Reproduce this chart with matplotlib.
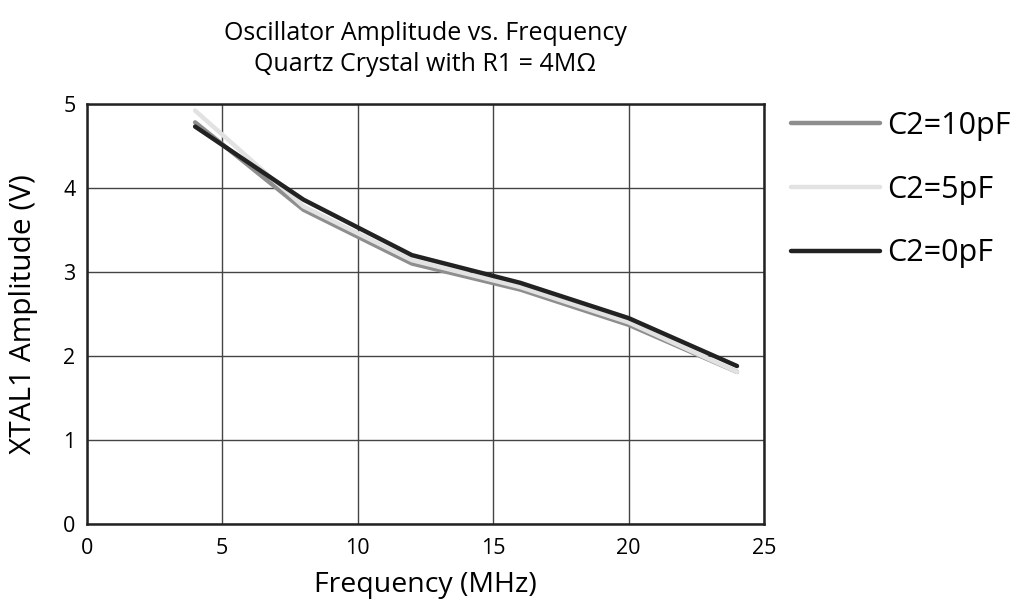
import matplotlib
matplotlib.use("Agg")
from matplotlib import pyplot as plt

freq_mhz = [4, 8, 12, 16, 20, 24]
amp_c2_10pf = [4.78, 3.74, 3.10, 2.79, 2.37, 1.81]
amp_c2_5pf = [4.92, 3.78, 3.14, 2.82, 2.40, 1.81]
amp_c2_0pf = [4.73, 3.86, 3.20, 2.87, 2.45, 1.88]

series = [
    ("C2=10pF", amp_c2_10pf, "#8e8e8e"),
    ("C2=5pF", amp_c2_5pf, "#e2e2e2"),
    ("C2=0pF", amp_c2_0pf, "#222222"),
]

plt.rcParams["font.family"] = ["Open Sans", "DejaVu Sans"]

fig = plt.figure(figsize=(10.24, 6.04), dpi=100)
ax = fig.add_axes([0.0847, 0.1325, 0.6615, 0.6955])

for label, values, color in series:
    ax.plot(freq_mhz, values, color=color, lw=3.2, label=label,
            solid_capstyle="round", solid_joinstyle="round")

ax.set_xlim(0, 25)
ax.set_ylim(0, 5)
ax.set_xticks(range(0, 26, 5))
ax.set_yticks(range(0, 6))
ax.grid(True, color="#444444", lw=1.0)
ax.set_axisbelow(True)
ax.tick_params(length=0, labelsize=15.5)
ax.tick_params(axis="x", pad=10)
ax.tick_params(axis="y", pad=8)
for side in ["left", "bottom", "top", "right"]:
    ax.spines[side].set_linewidth(1.8)
    ax.spines[side].set_color("#222222")

ax.set_xlabel("Frequency (MHz)", fontsize=20.5, labelpad=9)
ax.set_ylabel("XTAL1 Amplitude (V)", fontsize=21.5, labelpad=18)
ax.set_title("Oscillator Amplitude vs. Frequency\nQuartz Crystal with R1 = 4M\u03a9",
             fontsize=18, pad=24, linespacing=1.3)

ax.legend(loc="upper left", bbox_to_anchor=(1.022, 1.012), frameon=False,
          fontsize=22, handlelength=2.9, handletextpad=0.25, labelspacing=1.1,
          borderaxespad=0.0)

fig.savefig("out.png", dpi=100)
